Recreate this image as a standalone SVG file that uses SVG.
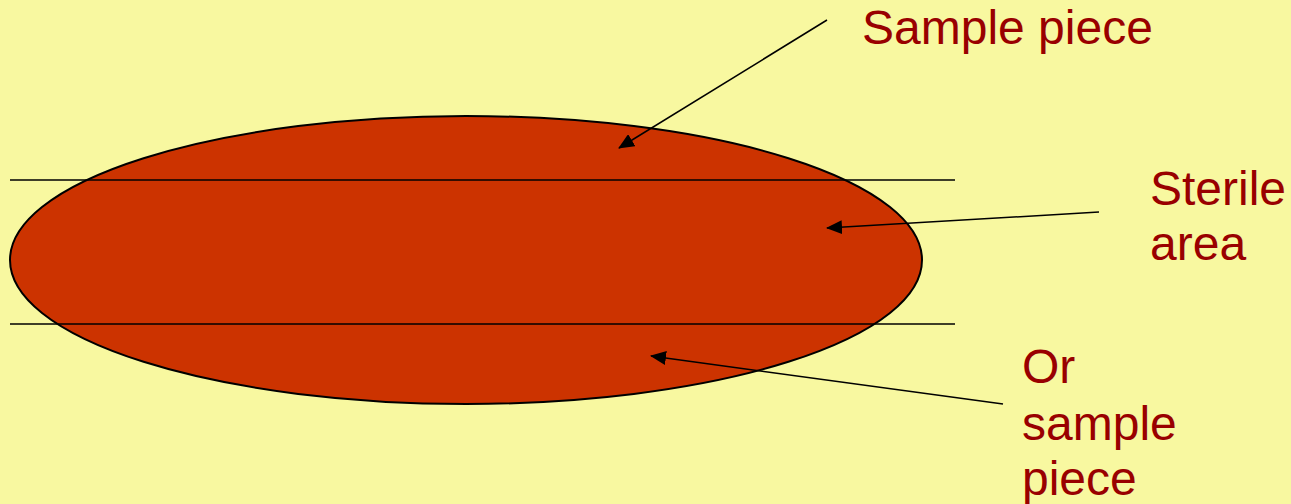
<svg xmlns="http://www.w3.org/2000/svg" width="1291" height="504" viewBox="0 0 1291 504">
<style>
.lbl{font-family:"Liberation Sans",Arial,sans-serif;font-size:48px;fill:#990000}
.ln{stroke:#000;stroke-width:1.5;fill:none}
</style>
<defs>
<marker id="ah" viewBox="0 0 16 14" refX="15" refY="7" markerWidth="16" markerHeight="14" markerUnits="userSpaceOnUse" orient="auto">
<path d="M0,0 L16,7 L0,14 z" fill="#000"/>
</marker>
</defs>
<rect width="1291" height="504" fill="#F8F8A0"/>
<g id="ellipse">
<ellipse cx="466" cy="260" rx="456" ry="144" fill="#CC3300" stroke="#000" stroke-width="2"/>
</g>
<g id="cut-lines">
<line class="ln" x1="10" y1="180" x2="955" y2="180"/>
<line class="ln" x1="10" y1="324" x2="955" y2="324"/>
</g>
<g id="connectors">
<line class="ln" x1="827" y1="20" x2="619" y2="148" marker-end="url(#ah)"/>
<line class="ln" x1="1099" y1="212" x2="827" y2="228" marker-end="url(#ah)"/>
<line class="ln" x1="1003" y1="404" x2="651" y2="356" marker-end="url(#ah)"/>
</g>
<g id="label-sample"><text class="lbl" x="862" y="44">Sample piece</text></g>
<g id="label-sterile"><text class="lbl" x="1150" y="205">Sterile</text><text class="lbl" x="1150" y="260">area</text></g>
<g id="label-or"><text class="lbl" x="1022" y="383">Or</text><text class="lbl" x="1022" y="440">sample</text><text class="lbl" x="1022" y="495">piece</text></g>
</svg>
